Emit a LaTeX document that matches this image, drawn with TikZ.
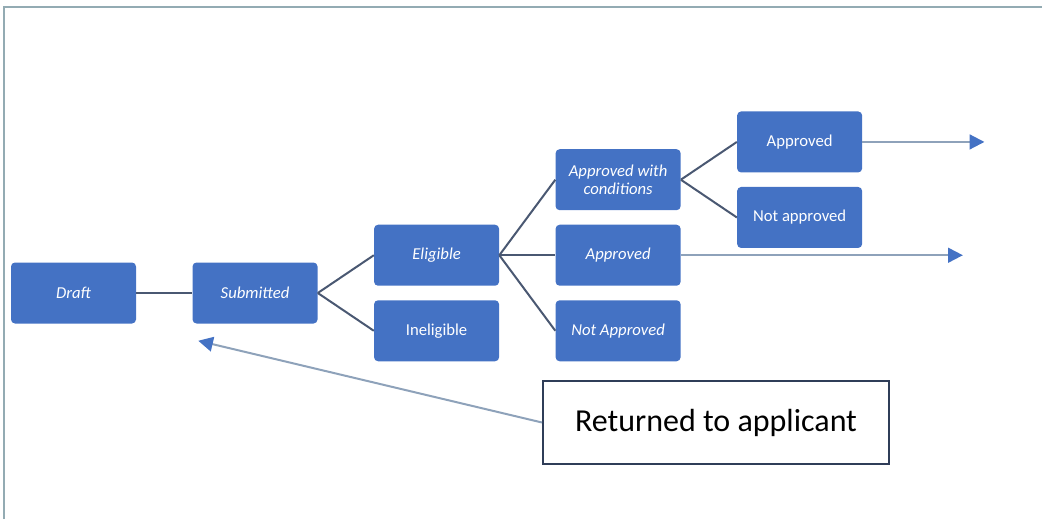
\documentclass[tikz,border=0pt]{standalone}
\usepackage{fontspec}
\setmainfont{Carlito}
\usepackage{xcolor}
\definecolor{colorBox}{HTML}{4472C4}
\definecolor{colorLink}{HTML}{4A5872}
\definecolor{colorArrow}{HTML}{8EA2BA}
\definecolor{colorFrame}{HTML}{93ABB3}
\definecolor{colorNote}{HTML}{2F3D58}
\usetikzlibrary{arrows.meta, positioning}
\tikzset{stage/.style={fill=colorBox, rounded corners=3pt, minimum width=93.75pt, minimum height=45.75pt, inner sep=2pt, text=white, align=center, font=\fontsize{12.5}{14}\selectfont}}
\tikzset{stagei/.style={stage, font=\fontsize{12.5}{14}\selectfont\itshape}}

\begin{document}
\begin{tikzpicture}[x=0.75pt, y=-0.75pt, node distance=42pt, link/.style={colorLink, line width=1.5pt}, exit/.style={colorArrow, line width=1.5pt, -{Triangle[length=11pt, width=11pt, color=colorBox, fill=colorBox]}}]
\useasboundingbox (0,0) rectangle (1042,519);
\draw[colorFrame, line width=1.8pt] (4,519) -- (4,7) -- (1042,7);
\node[stagei] (draft) at (73.5,293) {Draft};
\node[stagei, right=of draft] (subm) {Submitted};
\node[stagei, above right=5.25pt and 42pt of subm.east] (elig) {Eligible};
\node[stage, below=10.5pt of elig] (inel) {Ineligible};
\node[stagei, right=of elig] (appr) {Approved};
\node[stagei, above=10.5pt of appr] (cond) {Approved with\\conditions};
\node[stagei, below=10.5pt of appr] (notappr) {Not Approved};
\node[stage, above right=5.25pt and 42pt of cond.east] (final) {Approved};
\node[stage, below=10.5pt of final] (refused) {Not approved};
\node[draw=colorNote, line width=1.5pt, fill=white, minimum width=259.5pt, minimum height=62.25pt, font=\fontsize{24}{28}\selectfont] (back) at (716,422.5) {Returned to applicant};
\coordinate[right=91.5pt of final.east] (endtop);
\coordinate[right=211.5pt of appr.east] (endmid);
\coordinate[below right=12.75pt and 4.5pt of subm.south west] (endback);
\draw[link] (draft) -- (subm);
\draw[link] (subm.east) -- (elig.west);
\draw[link] (subm.east) -- (inel.west);
\draw[link] (elig.east) -- (cond.west);
\draw[link] (elig.east) -- (appr.west);
\draw[link] (elig.east) -- (notappr.west);
\draw[link] (cond.east) -- (final.west);
\draw[link] (cond.east) -- (refused.west);
\draw[exit] (final) -- (endtop);
\draw[exit] (appr) -- (endmid);
\draw[exit] (back.west) -- (endback);
\end{tikzpicture}
\end{document}
